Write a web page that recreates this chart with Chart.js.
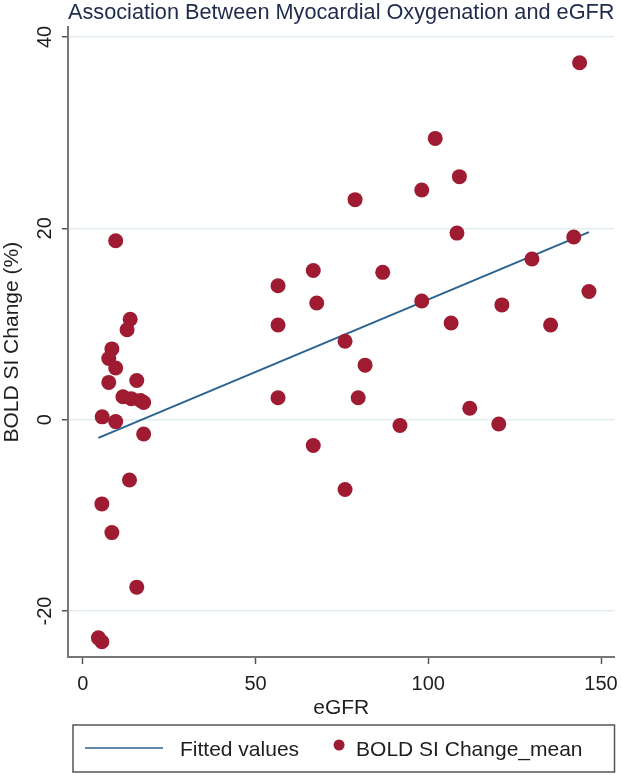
<!DOCTYPE html>
<html>
<head>
<meta charset="utf-8">
<script src="https://cdn.jsdelivr.net/npm/chart.js@4/dist/chart.umd.min.js"></script>
<style>
  html, body { margin: 0; padding: 0; background: #ffffff; }
  canvas { display: block; }
</style>
</head>
<body>
<canvas id="c" width="622" height="775"></canvas>
<script>
// ---------------- data ----------------
const titleText = 'Association Between Myocardial Oxygenation and eGFR';
const xTitle = 'eGFR';
const yTitle = 'BOLD SI Change (%)';
const seriesNames = ['Fitted values', 'BOLD SI Change_mean'];

const egfr = [
  4.5, 5.5, 13.5, 5.5, 8.4, 15.6, 13.7, 12.8, 8.4, 7.5, 9.5, 7.5, 15.6, 11.6, 14.0, 16.7, 17.6, 5.6, 9.5, 17.6, 9.5,
  102.0, 109.0, 98.1, 78.8, 108.3, 142.1, 130.0, 146.5, 66.7, 86.8, 56.5, 143.8, 67.7, 98.1, 121.3, 56.5, 106.6,
  135.4, 75.9, 81.7, 56.5, 79.7, 112.0, 91.8, 120.4, 66.7, 75.9
];
const boldChange = [
  -22.8, -23.2, -6.3, -8.8, -11.8, -17.5, 10.5, 9.4, 7.4, 6.4, 5.4, 3.9, 4.1, 2.4, 2.2, 2.0, 1.8, 0.3, -0.2, -1.5, 18.7,
  29.4, 25.4, 24.0, 23.0, 19.5, 19.1, 16.8, 13.4, 15.6, 15.4, 14.0, 37.3, 12.2, 12.4, 12.0, 9.9, 10.1,
  9.9, 8.2, 5.7, 2.3, 2.3, 1.2, -0.6, -0.45, -2.7, -7.3
];
const fitX = [4.5, 146.5];
const fitY = [-1.9, 19.6];

const xTicks = [0, 50, 100, 150];
const yTicks = [-20, 0, 20, 40];
const xRange = [-4.3, 153.9];
const yRange = [-24.8, 41.0];

// ---------------- style ----------------
const FONT = '"Liberation Sans", Arial, Helvetica, sans-serif';
const LINE_COLOR = '#2a6290';
const DOT_COLOR = '#9e1b31';
const TEXT_COLOR = '#1e1e1e';
const AXIS_COLOR = '#777777';
const TICK_COLOR = '#555555';
const GRID_COLOR = '#e3edf0';

const scatterPoints = egfr.map((x, i) => ({ x: x, y: boldChange[i] }));
const fitPoints = fitX.map((x, i) => ({ x: x, y: fitY[i] }));

const boxLegend = {
  id: 'boxLegend',
  afterDraw(chart) {
    const { ctx, chartArea } = chart;
    const ds = chart.data.datasets;
    const left = chartArea.left + 5;
    const right = chartArea.right;
    const top = chartArea.bottom + 68;
    const bottom = top + 47;
    const cy = top + 24;
    ctx.save();
    ctx.strokeStyle = '#555555';
    ctx.lineWidth = 1.5;
    ctx.strokeRect(left, top, right - left, bottom - top);

    ctx.font = '21px ' + FONT;
    ctx.fillStyle = TEXT_COLOR;
    ctx.textBaseline = 'middle';
    ctx.textAlign = 'left';

    // line sample
    ctx.strokeStyle = ds[0].borderColor;
    ctx.lineWidth = 1.5;
    ctx.beginPath();
    ctx.moveTo(left + 12, cy - 1);
    ctx.lineTo(left + 90, cy - 1);
    ctx.stroke();
    const t0x = left + 107;
    ctx.fillText(ds[0].label, t0x, cy + 1);
    const w0 = ctx.measureText(ds[0].label).width;

    // dot sample
    const dotX = t0x + w0 + 40;
    ctx.fillStyle = ds[1].backgroundColor;
    ctx.beginPath();
    ctx.arc(dotX, cy - 4, 5.5, 0, Math.PI * 2);
    ctx.fill();
    ctx.fillStyle = TEXT_COLOR;
    ctx.fillText(ds[1].label, dotX + 17, cy + 1);
    ctx.restore();
  }
};

new Chart(document.getElementById('c'), {
  type: 'scatter',
  data: {
    datasets: [
      {
        type: 'line',
        label: seriesNames[0],
        data: fitPoints,
        borderColor: LINE_COLOR,
        backgroundColor: LINE_COLOR,
        borderWidth: 2,
        pointRadius: 0,
        showLine: true,
        fill: false,
        order: 1
      },
      {
        label: seriesNames[1],
        data: scatterPoints,
        backgroundColor: DOT_COLOR,
        borderColor: DOT_COLOR,
        borderWidth: 0,
        pointRadius: 7.5,
        order: 0
      }
    ]
  },
  options: {
    responsive: false,
    animation: false,
    devicePixelRatio: 1,
    layout: { padding: { left: 0, right: 5, top: 0, bottom: 50 } },
    plugins: {
      legend: { display: false },
      tooltip: { enabled: false },
      title: {
        display: true,
        text: titleText,
        fullSize: false,
        color: '#1f2b4d',
        font: { family: FONT, size: 22, weight: 'normal' },
        padding: { top: 0, bottom: 1 }
      }
    },
    scales: {
      x: {
        type: 'linear',
        min: xRange[0],
        max: xRange[1],
        afterBuildTicks(scale) { scale.ticks = xTicks.map(v => ({ value: v })); },
        afterFit(scale) { scale.height = 68; scale.paddingLeft = 0; scale.paddingRight = 0; },
        grid: { drawOnChartArea: false, drawTicks: true, tickLength: 7, tickColor: TICK_COLOR, tickWidth: 1.5 },
        border: { color: AXIS_COLOR, width: 2 },
        ticks: { font: { family: FONT, size: 20 }, color: TEXT_COLOR, padding: 8, maxRotation: 0, minRotation: 0 },
        title: { display: true, text: xTitle, color: TEXT_COLOR, font: { family: FONT, size: 21 }, padding: { top: 0, bottom: 4 } }
      },
      y: {
        type: 'linear',
        min: yRange[0],
        max: yRange[1],
        afterBuildTicks(scale) { scale.ticks = yTicks.map(v => ({ value: v })); },
        afterFit(scale) { scale.width = 68; scale.paddingTop = 0; scale.paddingBottom = 0; },
        grid: { color: GRID_COLOR, lineWidth: 1.5, drawTicks: true, tickLength: 6, tickColor: TICK_COLOR, tickWidth: 1.5 },
        border: { color: AXIS_COLOR, width: 2 },
        ticks: { font: { family: FONT, size: 20 }, color: TEXT_COLOR, minRotation: 90, maxRotation: 90, crossAlign: 'center', padding: 2 },
        title: { display: true, text: yTitle, color: TEXT_COLOR, font: { family: FONT, size: 21 }, padding: { top: 0, bottom: 0 } }
      }
    }
  },
  plugins: [boxLegend]
});
</script>
</body>
</html>
